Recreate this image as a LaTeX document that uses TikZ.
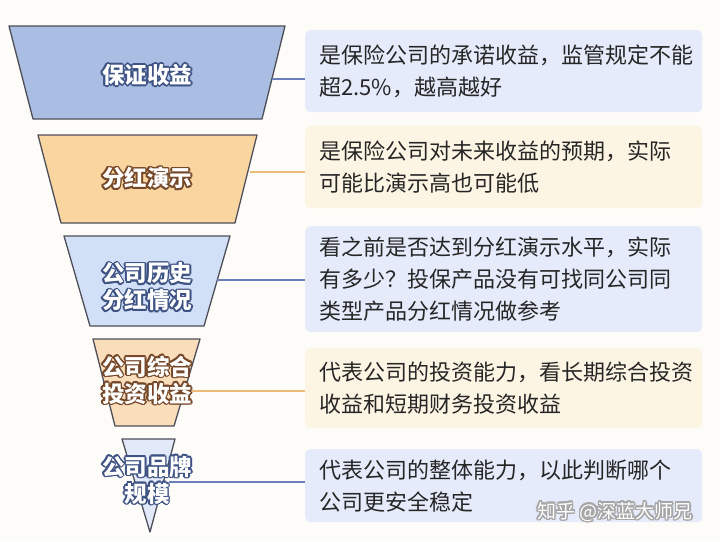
\documentclass[tikz,border=0pt]{standalone}
\usepackage{fontspec}
\setmainfont{Noto Sans CJK SC}
\usetikzlibrary{calc,positioning}
\definecolor{paper}{RGB}{253,252,248}
\definecolor{edgegray}{RGB}{78,78,88}
\definecolor{fblue}{RGB}{170,190,227}
\definecolor{forange}{RGB}{249,214,160}
\definecolor{fpaleblue}{RGB}{210,224,247}
\definecolor{fpaleorange}{RGB}{250,222,188}
\definecolor{fpalestblue}{RGB}{226,234,250}
\definecolor{boxblue}{RGB}{229,235,250}
\definecolor{boxorange}{RGB}{253,245,228}
\definecolor{linkblue}{RGB}{105,125,185}
\definecolor{linkorange}{RGB}{234,188,118}
\definecolor{haloblue}{RGB}{62,82,132}
\definecolor{halobrown}{RGB}{118,72,42}
\definecolor{inktext}{RGB}{38,38,38}
\tikzset{
  funnel/.style={draw=edgegray, line width=1.3pt, line join=round},
  funnellabel/.style={font=\fontsize{22.5}{27}\selectfont\bfseries, align=center, inner sep=0pt},
  marklabel/.style={font=\fontsize{19}{22}\selectfont, inner sep=0pt},
  infobox/.style={rounded corners=5pt, anchor=north west, text width=369pt,
    inner xsep=14pt, inner ysep=2pt, align=left, text=inktext,
    font=\fontsize{22}{32}\selectfont},
  bluelink/.style={draw=linkblue, line width=2.6pt},
  orangelink/.style={draw=linkorange, line width=2.6pt},
}
% white text with a coloured rim: style, position, name, rim colour, text
\newcommand\haloed[5]{%
  \foreach \ang in {0,30,...,330}
    \node[#1, text=#4] at ($(#2)+(\ang:1.6)$) {#5};
  \node[#1, text=white] (#3) at (#2) {#5};}

\begin{document}
\begin{tikzpicture}[x=1pt, y=-1pt]
  \useasboundingbox (0,0) rectangle (720,541);
  \fill[paper] (0,0) rectangle (720,541);

  % funnel
  \draw[funnel, fill=fblue] (9,26) -- (285,26) -- (262,119) -- (33,119) -- cycle;
  \draw[funnel, fill=forange] (38,135) -- (257,135) -- (235,223) -- (61,223) -- cycle;
  \draw[funnel, fill=fpaleblue] (64,236) -- (230,236) -- (204,326) -- (90,326) -- cycle;
  \draw[funnel, fill=fpaleorange] (93,339) -- (200,339) -- (174,426) -- (115,426) -- cycle;
  \draw[funnel, fill=fpalestblue] (122,439) -- (175,439) -- (150,532) -- cycle;

  % notes
  \node[infobox, fill=boxblue, minimum height=82pt] (note1) at (305,30)
    {是保险公司的承诺收益，监管规定不能\\超2.5\%，越高越好};
  \node[infobox, fill=boxorange, minimum height=82pt] (note2) at (305,126)
    {是保险公司对未来收益的预期，实际\\可能比演示高也可能低};
  \node[infobox, fill=boxblue, minimum height=106pt] (note3) at (305,226)
    {看之前是否达到分红演示水平，实际\\有多少？投保产品没有可找同公司同\\类型产品分红情况做参考};
  \node[infobox, fill=boxorange, minimum height=80pt] (note4) at (305,348)
    {代表公司的投资能力，看长期综合投资\\收益和短期财务投资收益};
  \node[infobox, fill=boxblue, minimum height=73pt] (note5) at (305,449)
    {代表公司的整体能力，以此判断哪个\\公司更安全稳定};

  % links
  \coordinate (from1) at (272,79);
  \coordinate (from2) at (250,172);
  \coordinate (from3) at (217,280);
  \coordinate (from4) at (192,391);
  \coordinate (from5) at (169,482);
  \draw[bluelink] (from1) -- (from1 -| note1.west);
  \draw[orangelink] (from2) -- (from2 -| note2.west);
  \draw[bluelink] (from3) -- (from3 -| note3.west);
  \draw[orangelink] (from4) -- (from4 -| note4.west);
  \draw[bluelink] (from5) -- (from5 -| note5.west);

  % funnel labels
  \haloed{funnellabel}{147,75}{level1}{haloblue}{保证收益}
  \haloed{funnellabel}{147,178}{level2}{halobrown}{分红演示}
  \haloed{funnellabel}{147,287}{level3}{haloblue}{公司历史\\分红情况}
  \haloed{funnellabel}{147,380}{level4}{halobrown}{公司综合\\投资收益}
  \haloed{funnellabel}{147,480}{level5}{haloblue}{公司品牌\\规模}

  \haloed{marklabel}{615,512}{mark}{black!35}{知乎 @深蓝大师兄}
\end{tikzpicture}
\end{document}
